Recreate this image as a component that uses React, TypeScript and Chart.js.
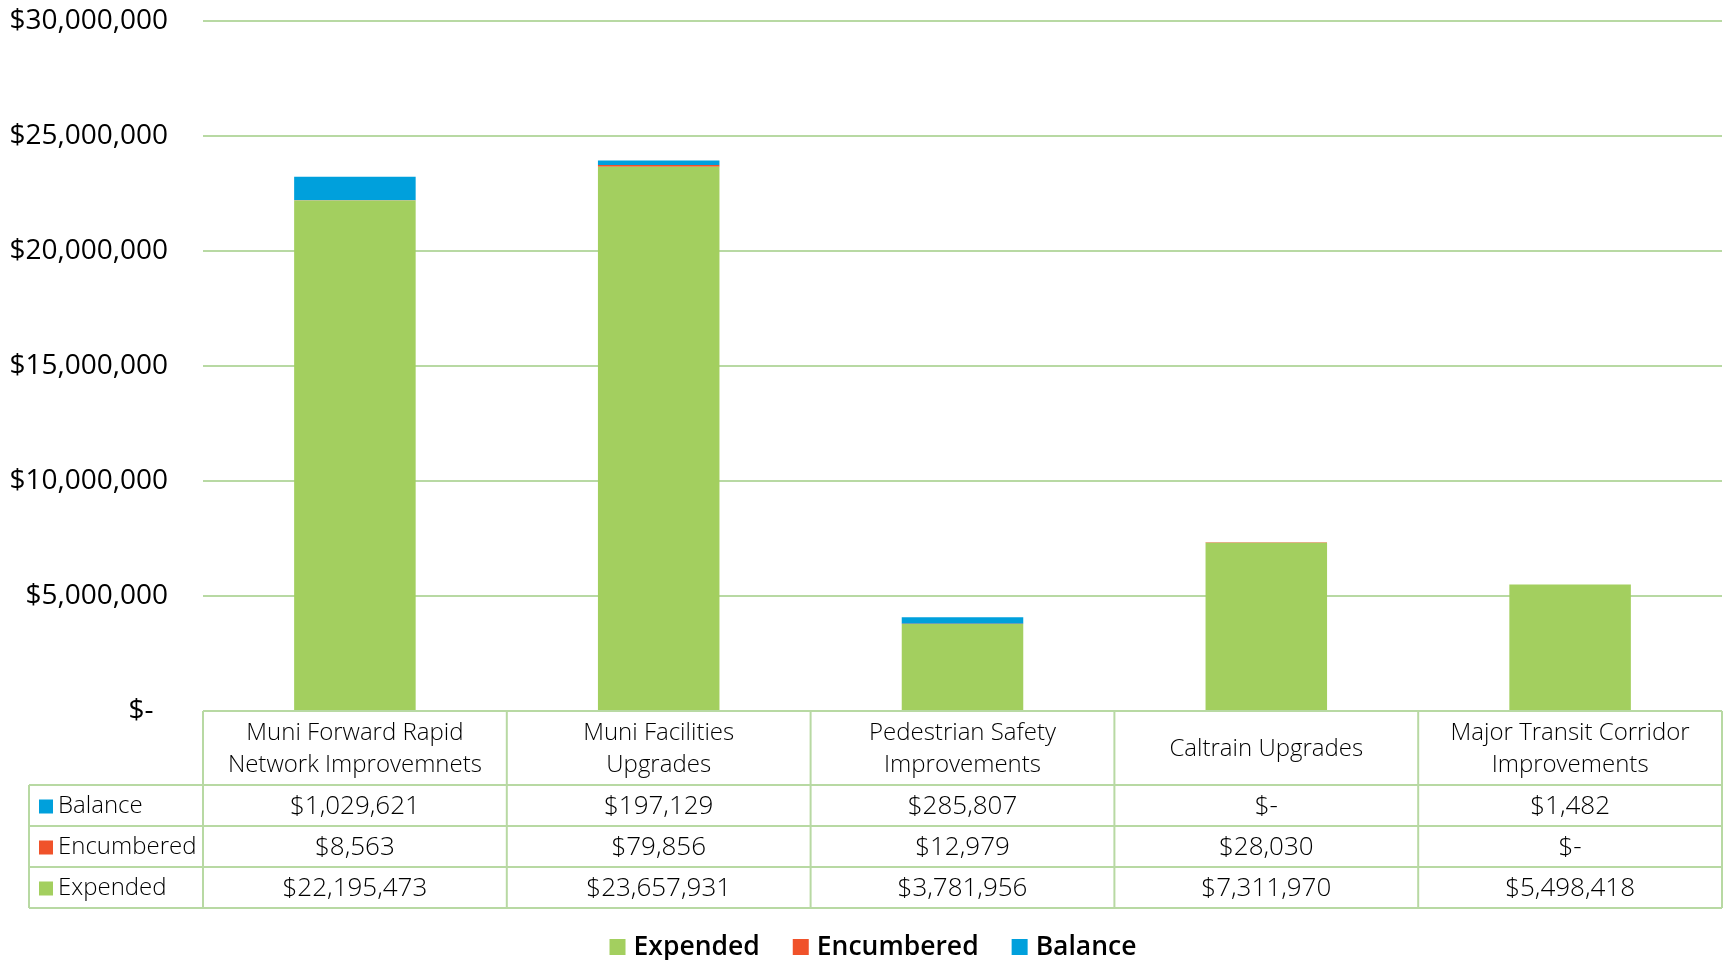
import React, { useEffect, useRef } from "react";
import { Chart, registerables } from "chart.js";

Chart.register(...registerables);

const categories: string[][] = [
  ["Muni Forward Rapid", "Network Improvemnets"],
  ["Muni Facilities", "Upgrades"],
  ["Pedestrian Safety", "Improvements"],
  ["Caltrain Upgrades"],
  ["Major Transit Corridor", "Improvements"],
];
const expended = [22195473, 23657931, 3781956, 7311970, 5498418];
const encumbered = [8563, 79856, 12979, 28030, 0];
const balance = [1029621, 197129, 285807, 0, 1482];
const yMax = 30000000;
const yStep = 5000000;

const GREEN = "#a3cf5f";
const ORANGE = "#f0522a";
const BLUE = "#00a0dc";
const LINE = "#b8d9a3";
const FONT = "'Open Sans', 'Noto Sans', sans-serif";

const fmt = (v: number) => (v === 0 ? "$-" : "$" + v.toLocaleString("en-US"));

const tablePlugin = {
  id: "dataTable",
  afterDraw(chart: any) {
    const ctx = chart.ctx as CanvasRenderingContext2D;
    const xs = chart.scales.x;
    const area = chart.chartArea;
    const top = area.bottom;
    const headerH = 74;
    const rowH = 41;
    const left = 29;
    const right = xs.right;
    const n = categories.length;
    const colW = (xs.right - xs.left) / n;
    const bottom = top + headerH + rowH * 3;

    const line = (x1: number, y1: number, x2: number, y2: number) => {
      ctx.beginPath();
      ctx.moveTo(x1, y1);
      ctx.lineTo(x2, y2);
      ctx.stroke();
    };

    ctx.save();
    ctx.strokeStyle = LINE;
    ctx.lineWidth = 2;
    line(xs.left, top, right, top);
    for (let r = 0; r <= 3; r++) {
      const y = top + headerH + r * rowH;
      line(left, y, right, y);
    }
    line(left, top + headerH, left, bottom);
    for (let i = 0; i <= n; i++) {
      const xx = xs.left + i * colW;
      line(xx, top, xx, bottom);
    }

    ctx.fillStyle = "#000";
    ctx.textAlign = "center";
    ctx.textBaseline = "middle";
    ctx.font = `300 24px ${FONT}`;
    categories.forEach((lines, i) => {
      const cx = xs.getPixelForValue(i);
      const cy = top + headerH / 2 + 1;
      const lh = 32;
      lines.forEach((t, j) => {
        ctx.fillText(t, cx, cy + (j - (lines.length - 1) / 2) * lh);
      });
    });

    const ds = chart.data.datasets;
    const rows = [ds[2], ds[1], ds[0]];
    rows.forEach((row: any, r: number) => {
      const cy = top + headerH + r * rowH + rowH / 2 + 1;
      ctx.fillStyle = row.backgroundColor;
      ctx.fillRect(left + 10, cy - 7, 14, 14);
      ctx.fillStyle = "#000";
      ctx.textAlign = "left";
      ctx.font = `300 24px ${FONT}`;
      ctx.fillText(row.label, left + 29, cy);
      ctx.textAlign = "center";
      ctx.font = `300 26px ${FONT}`;
      row.data.forEach((v: number, i: number) => {
        ctx.fillText(fmt(v), xs.getPixelForValue(i), cy);
      });
    });

    // legend
    ctx.font = `600 26.5px ${FONT}`;
    const box = 16;
    const gap = 8;
    const itemGap = 33;
    const widths = ds.map((d: any) => box + gap + ctx.measureText(d.label).width);
    const total = widths.reduce((a: number, b: number) => a + b, 0) + itemGap * (ds.length - 1);
    let lx = chart.width / 2 + 10 - total / 2;
    const ly = 947;
    ds.forEach((d: any, i: number) => {
      ctx.fillStyle = d.backgroundColor;
      ctx.fillRect(lx, ly - box / 2, box, box);
      ctx.fillStyle = "#000";
      ctx.textAlign = "left";
      ctx.fillText(d.label, lx + box + gap, ly);
      lx += widths[i] + itemGap;
    });
    ctx.restore();
  },
};

export default function App() {
  const ref = useRef<HTMLCanvasElement>(null);
  useEffect(() => {
    if (!ref.current) return;
    const chart = new Chart(ref.current, {
      type: "bar",
      data: {
        labels: categories,
        datasets: [
          { label: "Expended", data: expended, backgroundColor: GREEN },
          { label: "Encumbered", data: encumbered, backgroundColor: ORANGE },
          { label: "Balance", data: balance, backgroundColor: BLUE },
        ],
      },
      options: {
        responsive: false,
        animation: false,
        devicePixelRatio: 1,
        layout: { padding: { top: 21, right: 4, bottom: 249, left: 0 } },
        datasets: { bar: { barPercentage: 0.4, categoryPercentage: 1 } },
        plugins: { legend: { display: false }, tooltip: { enabled: false } },
        scales: {
          x: { stacked: true, display: false },
          y: {
            stacked: true,
            min: 0,
            max: yMax,
            afterFit: (s: any) => {
              s.width = 203;
              s.paddingTop = 0;
              s.paddingBottom = 0;
            },
            ticks: {
              stepSize: yStep,
              color: "#000",
              padding: 35,
              font: { family: FONT, size: 28 },
              callback: (v: any) => (Number(v) === 0 ? "$-  " : "$" + Number(v).toLocaleString("en-US")),
            },
            grid: { color: LINE, lineWidth: 2, drawTicks: false },
            border: { display: false },
          },
        },
      },
      plugins: [tablePlugin],
    });
    return () => chart.destroy();
  }, []);
  return (
    <div style={{ position: "absolute", left: 0, top: 0, width: 1726, height: 960 }}>
      <canvas ref={ref} width={1726} height={960} />
    </div>
  );
}
